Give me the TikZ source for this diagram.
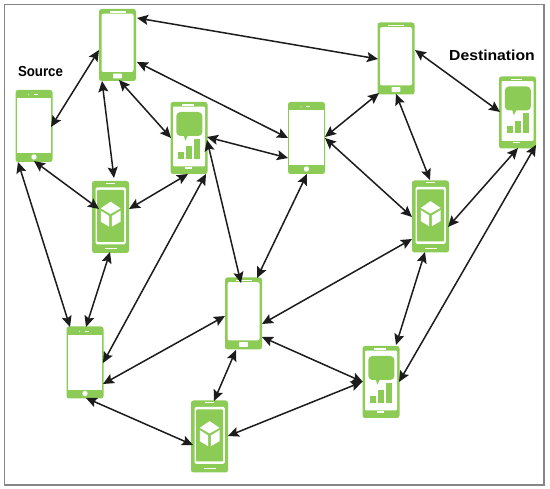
\documentclass[tikz,border=0pt]{standalone}
\usepackage{fontspec}
\setmainfont{Liberation Sans}
\usetikzlibrary{arrows.meta}
\definecolor{phgreen}{HTML}{8CCC56}
\definecolor{ink}{HTML}{1C1C1C}
\tikzset{
  x=1pt,y=-1pt,
  phone/.style={rectangle,fill=phgreen,minimum width=37pt,minimum height=72pt,inner sep=0pt,rounded corners=2.5pt},
  wht/.style={fill=white,draw=none},
  grn/.style={fill=phgreen,draw=none},
  link/.style={draw=ink,line width=1.5pt,{Stealth[length=11pt,width=10pt,inset=2pt]}-{Stealth[length=11pt,width=10pt,inset=2pt]}},
  lab/.style={font=\bfseries\fontsize{14.5pt}{15pt}\selectfont,text=black,inner sep=0pt,anchor=center},
  frame/.style={draw=gray!95,line width=1.2pt,fill=white}
}
% details of the four phone faces, units: 1/3 px about the centre
\newcommand{\samsung}[1]{\begin{scope}[shift={(#1.center)},scale=1/3]
  \fill[wht,rounded corners=2pt] (-48,-94) rectangle (48,81);
  \fill[wht] (-24,-101) rectangle (24,-97);
  \fill[wht,rounded corners=.5pt] (-13,86) rectangle (13,100);
\end{scope}}
\newcommand{\iphoneface}[1]{\begin{scope}[shift={(#1.center)},scale=1/3]
  \fill[wht] (-52,-83) rectangle (52,82);
  \fill[wht] (-1,-95) rectangle (11,-92);
  \fill[wht] (-16,-93.5) circle (5/3);
  \fill[wht] (0,93) circle (8);
\end{scope}}
\newcommand{\msgface}[1]{\begin{scope}[shift={(#1.center)},scale=1/3]
  \fill[wht,rounded corners=1pt] (-48,-94) rectangle (48,85);
  \fill[wht] (-20,-101) rectangle (14,-97);
  \fill[wht] (-13,88) rectangle (8,93);
  \fill[grn,rounded corners=4pt] (-38,-78) rectangle (40,-6);
  \fill[grn] (-16,-8) -- (-11,8) -- (-3,-8) -- cycle;
  \fill[grn] (-33,42) rectangle (-14,63);
  \fill[grn] (-8,25) rectangle (10,63);
  \fill[grn] (15,3) rectangle (33,63);
\end{scope}}
\newcommand{\cubeface}[1]{\begin{scope}[shift={(#1.center)},scale=1/3]
  \fill[wht,rounded corners=1.5pt] (-45,-89) rectangle (46,82);
  \fill[grn,rounded corners=1pt] (-40,-81) rectangle (41,75);
  \fill[wht] (-14,-102) rectangle (13,-100);
  \fill[wht] (-18,94) rectangle (18,97);
  \fill[wht] (0,-46) -- (30,-26) -- (0,-9) -- (-29,-26) -- cycle;
  \fill[wht] (-29,-19) -- (-4,-3) -- (-4,29) -- (-29,14) -- cycle;
  \fill[wht] (4,-3) -- (30,-19) -- (30,14) -- (4,29) -- cycle;
\end{scope}}
\newcommand{\lk}[6]{\draw[link] ([shift={(#2,#3)}]#1.center) -- ([shift={(#5,#6)}]#4.center);}
\begin{document}
\begin{tikzpicture}
\useasboundingbox (0,0) rectangle (550,489);
\fill[white] (0,0) rectangle (550,489);
\draw[frame] (4.5,4.5) rectangle (544,485);
\node[phone] (A) at (117.5,45) {};
\node[phone] (B) at (34,126) {};
\node[phone] (C) at (189,138) {};
\node[phone] (D) at (110.5,217) {};
\node[phone] (E) at (306.5,138) {};
\node[phone] (F) at (396,58.5) {};
\node[phone] (G) at (517.5,112.5) {};
\node[phone] (H) at (430.5,216.5) {};
\node[phone] (I) at (243.5,313.5) {};
\node[phone] (J) at (85,362.5) {};
\node[phone] (K) at (209.5,436.5) {};
\node[phone] (L) at (381,382) {};
\samsung{A}\samsung{F}\samsung{I}
\iphoneface{B}\iphoneface{E}\iphoneface{J}
\msgface{C}\msgface{G}\msgface{L}
\cubeface{D}\cubeface{H}\cubeface{K}
\lk{A}{19.5}{-27}{F}{-18}{0.5}
\lk{A}{19.5}{17}{E}{-18.5}{0}
\lk{A}{-18.5}{5}{B}{17}{1}
\lk{A}{-15.5}{36}{D}{3.5}{-39}
\lk{A}{1.5}{35}{C}{-18}{0}
\lk{B}{0}{35}{D}{-11.5}{-8}
\lk{C}{-1}{36}{D}{18.5}{-8}
\lk{C}{18}{-1}{E}{-18.5}{20}
\lk{B}{-16}{36}{J}{-15}{-35.5}
\lk{D}{-0.5}{35}{J}{1}{-35.5}
\lk{C}{17}{36}{J}{18}{0.5}
\lk{C}{18}{2}{I}{-2.5}{-30.5}
\lk{E}{0.5}{36}{I}{13.5}{-35.5}
\lk{E}{18.5}{-1}{F}{-17}{34.5}
\lk{E}{18.5}{0}{H}{-18.5}{0.5}
\lk{F}{0}{35.5}{H}{-0.5}{-36.5}
\lk{F}{19}{-8.5}{G}{-17.5}{-0.5}
\lk{G}{0.5}{35.5}{H}{17.5}{10.5}
\lk{G}{18.5}{32.5}{L}{18}{0}
\lk{H}{-18.5}{22.5}{I}{18.5}{10.5}
\lk{H}{-5.5}{35.5}{L}{15}{-37}
\lk{I}{-18.5}{2.5}{J}{18}{21.5}
\lk{I}{-7.5}{36.5}{K}{4.5}{-35.5}
\lk{I}{18.5}{23.5}{L}{-18}{0}
\lk{J}{1}{35.5}{K}{-16.5}{8.5}
\lk{K}{18.5}{-0.5}{L}{-19}{0}
\node[lab] (src) at (40.5,72) {\scalebox{0.915}[1]{Source}};
\node[lab] (dst) at (492,55.5) {\scalebox{1.085}[1]{Destination}};
\end{tikzpicture}
\end{document}
